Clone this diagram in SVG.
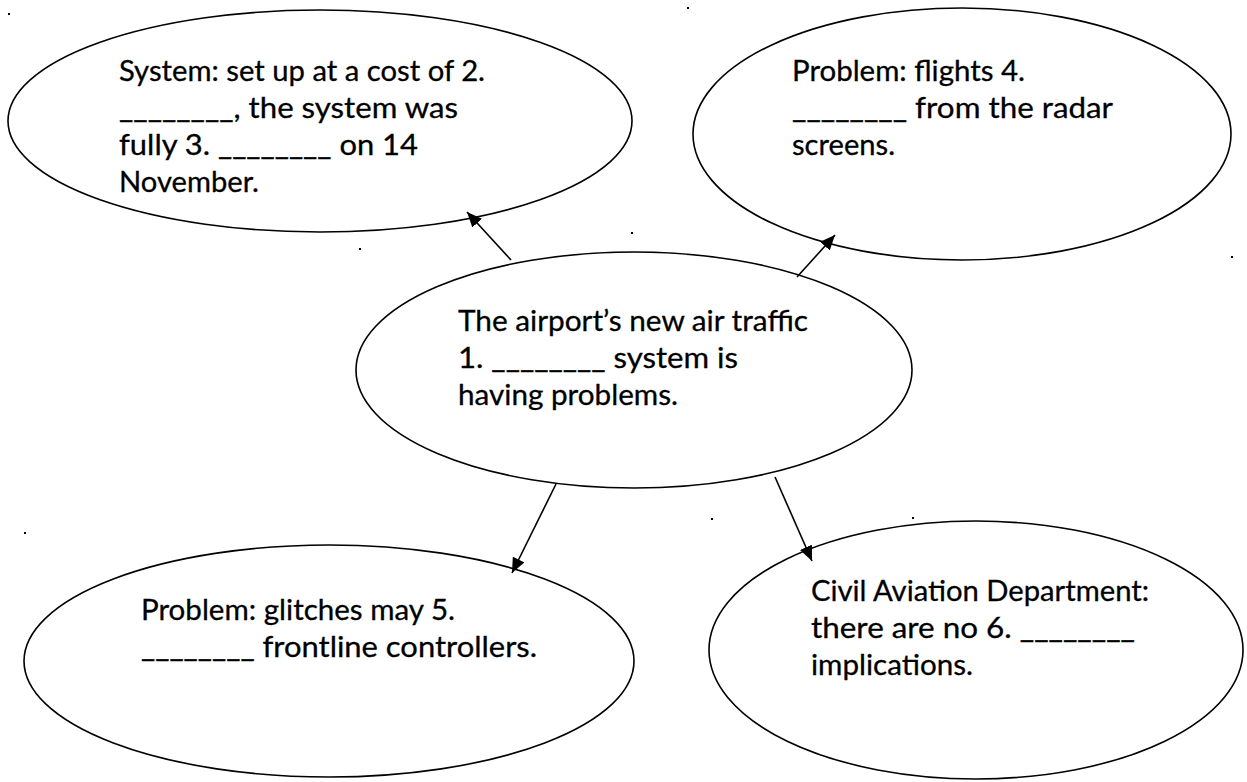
<svg xmlns="http://www.w3.org/2000/svg" width="1247" height="782" viewBox="0 0 1247 782">
<style>
.node ellipse{fill:#fff;stroke:#000;stroke-width:1.6}
.node text{font-family:Lato,"Open Sans","Liberation Sans",sans-serif;font-size:29.5px;fill:#000;stroke:#000;stroke-width:0.3}
.conn line{stroke:#000;stroke-width:1.6;marker-end:url(#arrow)}
.dot{fill:#000}
</style>
<defs>
<marker id="arrow" markerUnits="userSpaceOnUse" markerWidth="16" markerHeight="14" refX="15" refY="6.5" orient="auto">
<path d="M0,0 L15,6.5 L0,13 z" fill="#000"/>
</marker>
</defs>
<rect width="1247" height="782" fill="#fff"/>
<g id="n-system" class="node">
<ellipse cx="320" cy="121" rx="312" ry="111"/>
<text x="119" y="81" textLength="366" lengthAdjust="spacingAndGlyphs">System: set up at a cost of 2.</text>
<text x="119" y="118" textLength="339" lengthAdjust="spacingAndGlyphs">________, the system was</text>
<text x="119" y="155" textLength="299" lengthAdjust="spacingAndGlyphs">fully 3. ________ on 14</text>
<text x="119" y="192" textLength="140" lengthAdjust="spacingAndGlyphs">November.</text>
</g>
<g id="n-flights" class="node">
<ellipse cx="962" cy="134" rx="269" ry="126"/>
<text x="792" y="81" textLength="233" lengthAdjust="spacingAndGlyphs">Problem: flights 4.</text>
<text x="792" y="118" textLength="321" lengthAdjust="spacingAndGlyphs">________ from the radar</text>
<text x="792" y="155" textLength="103" lengthAdjust="spacingAndGlyphs">screens.</text>
</g>
<g id="n-center" class="node">
<ellipse cx="634" cy="370" rx="278" ry="118"/>
<text x="458" y="331" textLength="350" lengthAdjust="spacingAndGlyphs">The airport’s new air traffic</text>
<text x="458" y="368" textLength="280" lengthAdjust="spacingAndGlyphs">1. ________ system is</text>
<text x="458" y="405" textLength="220" lengthAdjust="spacingAndGlyphs">having problems.</text>
</g>
<g id="n-glitches" class="node">
<ellipse cx="329" cy="661" rx="305" ry="116"/>
<text x="141" y="620" textLength="314" lengthAdjust="spacingAndGlyphs">Problem: glitches may 5.</text>
<text x="141" y="657" textLength="396" lengthAdjust="spacingAndGlyphs">________ frontline controllers.</text>
</g>
<g id="n-cad" class="node">
<ellipse cx="976" cy="650" rx="267" ry="129"/>
<text x="811" y="601" textLength="338" lengthAdjust="spacingAndGlyphs">Civil Aviation Department:</text>
<text x="811" y="638" textLength="324" lengthAdjust="spacingAndGlyphs">there are no 6. ________</text>
<text x="811" y="675" textLength="162" lengthAdjust="spacingAndGlyphs">implications.</text>
</g>
<g id="connectors" class="conn">
<line x1="511" y1="260" x2="467" y2="212"/>
<line x1="797" y1="277" x2="835" y2="235"/>
<line x1="556" y1="484" x2="512" y2="573"/>
<line x1="775" y1="477" x2="812" y2="561"/>
</g>
<g id="dots">
<rect class="dot" x="8" y="13" width="2" height="2"/>
<rect class="dot" x="687" y="7" width="2" height="2"/>
<rect class="dot" x="359" y="248" width="2" height="2"/>
<rect class="dot" x="631" y="232" width="2" height="2"/>
<rect class="dot" x="1231" y="256" width="2" height="2"/>
<rect class="dot" x="24" y="532" width="2" height="2"/>
<rect class="dot" x="711" y="518" width="2" height="2"/>
<rect class="dot" x="912" y="517" width="2" height="2"/>
</g>
</svg>
